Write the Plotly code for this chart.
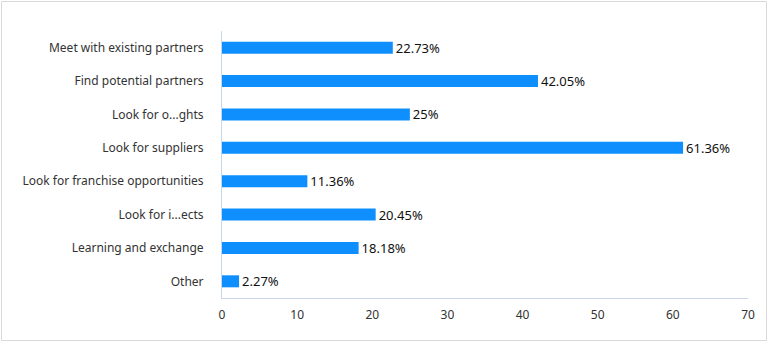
import plotly.graph_objects as go

categories = [
    "Meet with existing partners",
    "Find potential partners",
    "Look for o...ghts",
    "Look for suppliers",
    "Look for franchise opportunities",
    "Look for i...ects",
    "Learning and exchange",
    "Other",
]
values = [22.73, 42.05, 25, 61.36, 11.36, 20.45, 18.18, 2.27]
x_ticks = [0, 10, 20, 30, 40, 50, 60, 70]

W, H = 768, 342
L, R, T, B = 222, 20, 31, 44
pw, ph = W - L - R, H - T - B

fig = go.Figure(go.Bar(
    y=categories,
    x=values,
    orientation="h",
    marker=dict(color="#0f8ffd", line=dict(width=0)),
    width=0.36,
    text=[f"{v:g}%" for v in values],
    textposition="outside",
    constraintext="none",
    textfont=dict(size=13, color="#111111", family="Noto Sans"),
    cliponaxis=False,
))

fig.update_layout(
    width=W, height=H,
    margin=dict(l=L, r=R, t=T, b=B),
    paper_bgcolor="white",
    plot_bgcolor="white",
    showlegend=False,
    font=dict(family="Noto Sans", size=12, color="#333333"),
    xaxis=dict(
        range=[0, 70],
        tickvals=x_ticks,
        showgrid=False,
        zeroline=False,
        showline=True,
        linecolor="#ccd6eb",
        linewidth=1,
        ticks="",
        ticklabelstandoff=6,
        tickfont=dict(size=12, color="#333333"),
    ),
    yaxis=dict(
        autorange="reversed",
        showgrid=False,
        zeroline=False,
        showline=True,
        linecolor="#ccd6eb",
        linewidth=1,
        ticks="",
        ticklabelstandoff=15,
        tickfont=dict(size=12, color="#333333"),
    ),
    shapes=[dict(
        type="rect", xref="paper", yref="paper",
        x0=(1.5 - L) / pw, x1=(W - 1.5 - L) / pw,
        y0=-(B - 1.5) / ph,
        y1=1 + (T - 1.5) / ph,
        line=dict(color="#d9d9d9", width=1),
        fillcolor="rgba(0,0,0,0)",
        layer="below",
    )],
)

fig.write_html("out.html")
